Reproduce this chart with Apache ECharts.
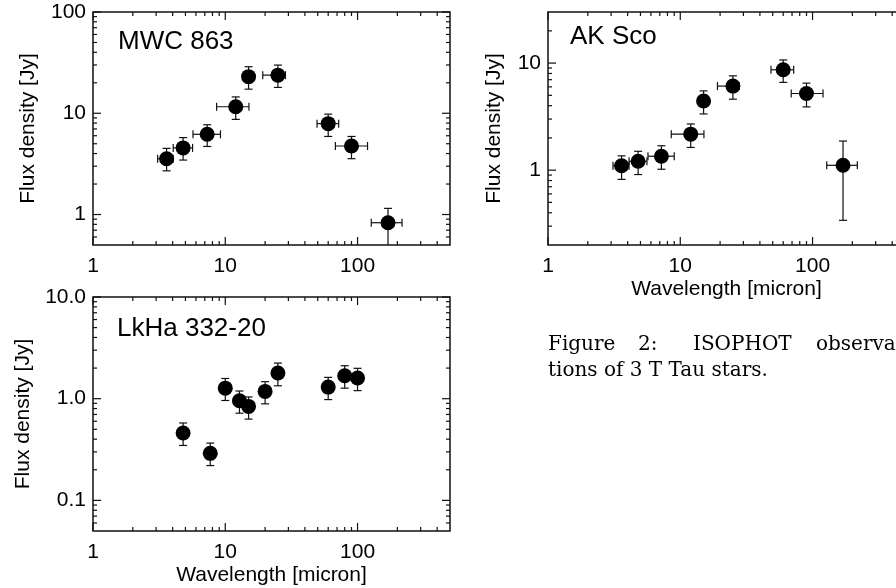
<!DOCTYPE html>
<html>
<head>
<meta charset="utf-8">
<title>ISOPHOT observations of 3 T Tau stars</title>
<script src="https://cdn.jsdelivr.net/npm/echarts@6/dist/echarts.min.js"></script>
<style>
    html, body { margin: 0; padding: 0; background: #fff; }
    #main { width: 896px; height: 588px; overflow: hidden; }
</style>
</head>
<body>
<div id="main"></div>
<script type="text/javascript">
// MWC 863 (wavelength in micron, flux density in Jy)
var mwcWave   = [3.6, 4.8, 7.3, 12, 15, 25, 60, 90, 170];
var mwcFlux   = [3.55, 4.55, 6.2, 11.6, 23, 23.8, 7.9, 4.75, 0.83];
var mwcFluxLo = [2.7, 3.45, 4.7, 8.7, 17.3, 18, 5.9, 3.56, 0.4];
var mwcFluxHi = [4.5, 5.75, 7.7, 14.5, 28.8, 29.9, 9.8, 5.9, 1.15];
var mwcWaveLo = [3.08, 4.04, 5.7, 8.6, null, 19.2, 49.4, 68, 127];
var mwcWaveHi = [4.04, 5.66, 9.2, 15.1, null, 28.5, 72, 119, 217];

// AK Sco
var akWave   = [3.6, 4.8, 7.2, 12, 15, 25, 60, 90, 170];
var akFlux   = [1.1, 1.21, 1.35, 2.17, 4.43, 6.1, 8.66, 5.2, 1.11];
var akFluxLo = [0.82, 0.91, 1.02, 1.63, 3.35, 4.6, 6.6, 3.9, 0.34];
var akFluxHi = [1.36, 1.5, 1.69, 2.7, 5.5, 7.6, 10.7, 6.5, 1.87];
var akWaveLo = [3.1, 4.1, 5.7, 8.55, null, 19.1, 48.5, 69, 128];
var akWaveHi = [4.1, 5.6, 9.0, 15.1, null, 28, 72, 120, 218];

// LkHa 332-20
var lkWave   = [4.8, 7.7, 10, 12.8, 15, 20, 25, 60, 80, 100];
var lkFlux   = [0.46, 0.29, 1.27, 0.955, 0.84, 1.18, 1.79, 1.30, 1.68, 1.60];
var lkFluxLo = [0.347, 0.22, 0.96, 0.72, 0.63, 0.89, 1.34, 0.98, 1.27, 1.2];
var lkFluxHi = [0.577, 0.366, 1.58, 1.19, 1.04, 1.47, 2.24, 1.62, 2.11, 1.99];

// axes
var waveRange = [1, 500];
var waveTicks = [1, 10, 100];
var waveTickLabels = ['1', '10', '100'];
var waveMinor = [2, 3, 4, 5, 6, 7, 8, 9, 20, 30, 40, 50, 60, 70, 80, 90, 200, 300, 400];

var mwcRange = [0.5, 100];
var mwcTicks = [1, 10, 100];
var mwcTickLabels = ['1', '10', '100'];
var mwcMinor = [0.6, 0.7, 0.8, 0.9, 2, 3, 4, 5, 6, 7, 8, 9, 20, 30, 40, 50, 60, 70, 80, 90];

var akRange = [0.2, 30];
var akTicks = [1, 10];
var akTickLabels = ['1', '10'];
var akMinor = [0.3, 0.4, 0.5, 0.6, 0.7, 0.8, 0.9, 2, 3, 4, 5, 6, 7, 8, 9, 20];

var lkRange = [0.05, 10];
var lkTicks = [0.1, 1, 10];
var lkTickLabels = ['0.1', '1.0', '10.0'];
var lkMinor = [0.06, 0.07, 0.08, 0.09, 0.2, 0.3, 0.4, 0.5, 0.6, 0.7, 0.8, 0.9, 2, 3, 4, 5, 6, 7, 8, 9];

var INK = '#111';
var FONT = 'Liberation Sans, Arial, sans-serif';
var SERIF = 'DejaVu Serif, serif';

function labelFor(ticks, labels) {
    return function (v) {
        for (var i = 0; i < ticks.length; i++) {
            if (Math.abs(Math.log10(ticks[i] / v)) < 1e-6) return labels[i];
        }
        return '';
    };
}

function xAxisOf(gi, name) {
    return {
        type: 'log', logBase: 10, gridIndex: gi,
        min: waveRange[0], max: waveRange[1],
        name: name, nameLocation: 'middle', nameGap: 34,
        nameTextStyle: { fontSize: 21, color: '#000', fontFamily: FONT },
        axisLine: { show: false }, axisTick: { show: false }, splitLine: { show: false },
        axisLabel: { fontSize: 21, color: '#000', fontFamily: FONT, margin: 11,
            formatter: labelFor(waveTicks, waveTickLabels) }
    };
}

function yAxisOf(gi, range, ticks, labels, gap) {
    return {
        type: 'log', logBase: 10, gridIndex: gi,
        min: range[0], max: range[1],
        name: 'Flux density [Jy]', nameLocation: 'middle', nameGap: gap,
        nameTextStyle: { fontSize: 21, color: '#000', fontFamily: FONT },
        axisLine: { show: false }, axisTick: { show: false }, splitLine: { show: false },
        axisLabel: { fontSize: 21, color: '#000', fontFamily: FONT, margin: 7,
            formatter: labelFor(ticks, labels) }
    };
}

// ticks on all four sides, pointing inward
function tickSeries(gi, yRange, yTicks, yMinor) {
    return {
        type: 'custom', xAxisIndex: gi, yAxisIndex: gi, silent: true, z: 5,
        data: [[waveRange[0], yRange[0]]],
        renderItem: function (params, api) {
            var cs = params.coordSys;
            var kids = [];
            function seg(x1, y1, x2, y2) {
                kids.push({ type: 'line', shape: { x1: x1, y1: y1, x2: x2, y2: y2 },
                    style: { stroke: INK, lineWidth: 1.2 } });
            }
            function xt(v, len) {
                var px = api.coord([v, yRange[0]])[0];
                seg(px, cs.y + cs.height, px, cs.y + cs.height - len);
                seg(px, cs.y, px, cs.y + len);
            }
            function yt(v, len) {
                var py = api.coord([waveRange[0], v])[1];
                seg(cs.x, py, cs.x + len, py);
                seg(cs.x + cs.width, py, cs.x + cs.width - len, py);
            }
            waveTicks.forEach(function (v) { xt(v, 8); });
            waveMinor.forEach(function (v) { xt(v, 4); });
            yTicks.forEach(function (v) { yt(v, 8); });
            yMinor.forEach(function (v) { yt(v, 4); });
            return { type: 'group', children: kids };
        }
    };
}

function errSeries(gi, wave, flux, lo, hi, wLo, wHi) {
    var data = wave.map(function (w, i) {
        return [w, flux[i], lo[i], hi[i],
            wLo && wLo[i] != null ? wLo[i] : '-', wHi && wHi[i] != null ? wHi[i] : '-'];
    });
    return {
        type: 'custom', xAxisIndex: gi, yAxisIndex: gi, silent: true, z: 3,
        encode: { x: 0, y: 1 },
        data: data,
        renderItem: function (params, api) {
            var cs = params.coordSys;
            var bottom = cs.y + cs.height;
            var c = api.coord([api.value(0), api.value(1)]);
            var yl = api.coord([api.value(0), api.value(2)])[1];
            var yh = api.coord([api.value(0), api.value(3)])[1];
            var kids = [];
            function seg(x1, y1, x2, y2) {
                kids.push({ type: 'line', shape: { x1: x1, y1: y1, x2: x2, y2: y2 },
                    style: { stroke: INK, lineWidth: 1.2 } });
            }
            var cap = 4;
            seg(c[0], Math.min(yl, bottom), c[0], yh);
            seg(c[0] - cap, yh, c[0] + cap, yh);
            if (yl <= bottom) seg(c[0] - cap, yl, c[0] + cap, yl);
            var a = api.value(4), b = api.value(5);
            if (isFinite(a) && isFinite(b)) {
                var xl = api.coord([a, api.value(1)])[0];
                var xh = api.coord([b, api.value(1)])[0];
                seg(xl, c[1], xh, c[1]);
                seg(xl, c[1] - cap, xl, c[1] + cap);
                seg(xh, c[1] - cap, xh, c[1] + cap);
            }
            return { type: 'group', children: kids };
        }
    };
}

function dotSeries(gi, wave, flux) {
    return {
        type: 'scatter', xAxisIndex: gi, yAxisIndex: gi, z: 4,
        symbol: 'circle', symbolSize: 15,
        itemStyle: { color: '#000', opacity: 1 },
        data: wave.map(function (w, i) { return [w, flux[i]]; })
    };
}

function gridAt(left, top, height) {
    return { left: left, top: top, width: 357, height: height, outerBoundsMode: 'none',
        show: true, borderColor: INK, borderWidth: 1.5 };
}

function txt(x, y, s, size, family) {
    return { type: 'text', x: x, y: y, silent: true,
        style: { text: s, fontSize: size, fontFamily: family, fill: '#000', verticalAlign: 'top' } };
}

var myChart = echarts.init(document.getElementById('main'));

myChart.setOption({
    animation: false,
    textStyle: { fontFamily: FONT },
    grid: [gridAt(93, 12, 233), gridAt(93, 297, 234), gridAt(548, 12, 233)],
    xAxis: [xAxisOf(0, ''), xAxisOf(1, 'Wavelength [micron]'), xAxisOf(2, 'Wavelength [micron]')],
    yAxis: [
        yAxisOf(0, mwcRange, mwcTicks, mwcTickLabels, 54),
        yAxisOf(1, lkRange, lkTicks, lkTickLabels, 59),
        yAxisOf(2, akRange, akTicks, akTickLabels, 43)
    ],
    series: [
        tickSeries(0, mwcRange, mwcTicks, mwcMinor),
        errSeries(0, mwcWave, mwcFlux, mwcFluxLo, mwcFluxHi, mwcWaveLo, mwcWaveHi),
        dotSeries(0, mwcWave, mwcFlux),
        tickSeries(1, lkRange, lkTicks, lkMinor),
        errSeries(1, lkWave, lkFlux, lkFluxLo, lkFluxHi, null, null),
        dotSeries(1, lkWave, lkFlux),
        tickSeries(2, akRange, akTicks, akMinor),
        errSeries(2, akWave, akFlux, akFluxLo, akFluxHi, akWaveLo, akWaveHi),
        dotSeries(2, akWave, akFlux)
    ],
    graphic: [
        txt(118, 29, 'MWC 863', 26, FONT),
        txt(570, 24, 'AK Sco', 26, FONT),
        txt(117, 316, 'LkHa 332-20', 26, FONT),
        txt(548, 335, 'Figure', 20, SERIF),
        txt(638, 335, '2:', 20, SERIF),
        txt(693, 335, 'ISOPHOT', 20, SERIF),
        txt(816, 335, 'observa-', 20, SERIF),
        txt(548, 361, 'tions of 3 T Tau stars.', 20, SERIF)
    ]
});
</script>
</body>
</html>
